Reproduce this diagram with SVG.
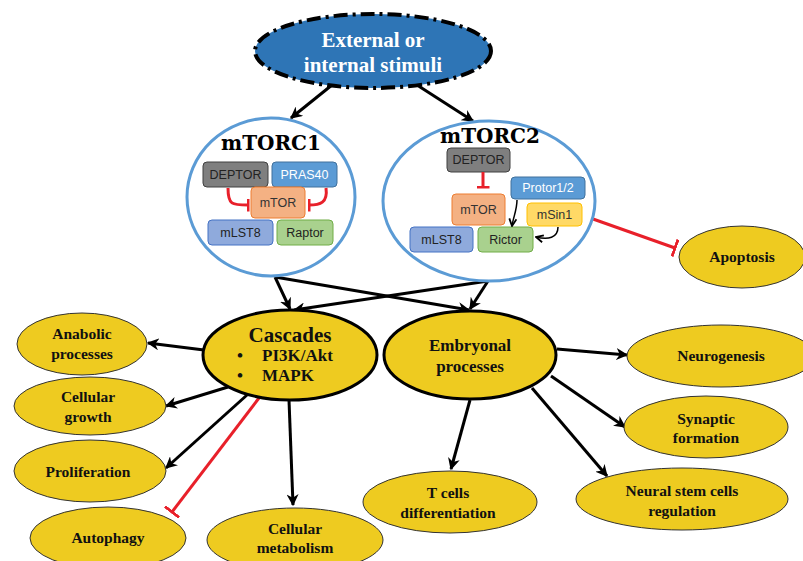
<svg xmlns="http://www.w3.org/2000/svg" width="803" height="561" viewBox="0 0 803 561">
<defs>
<marker id="ah" viewBox="0 0 10 10" refX="9" refY="5" markerWidth="4" markerHeight="4" orient="auto" markerUnits="strokeWidth">
<path d="M0,0 L10,5 L0,10 L3,5 z" fill="#000"/>
</marker>
<marker id="ahs" viewBox="0 0 10 10" refX="9" refY="5" markerWidth="6" markerHeight="6" orient="auto" markerUnits="strokeWidth">
<path d="M1,1 L9,5 L1,9" fill="none" stroke="#000" stroke-width="2"/>
</marker>
<marker id="bar" viewBox="0 0 3 18" refX="1.5" refY="9" markerWidth="3" markerHeight="18" orient="auto" markerUnits="userSpaceOnUse">
<rect x="0" y="0" width="3" height="18" fill="#E8202A"/>
</marker>
<marker id="bars" viewBox="0 0 3 13" refX="1.5" refY="6.5" markerWidth="3" markerHeight="13" orient="auto" markerUnits="userSpaceOnUse">
<rect x="0" y="0" width="3" height="13" fill="#E8202A"/>
</marker>
</defs>
<style>
.y{fill:#EECB20;stroke:#333;stroke-width:1}
.yb{fill:#EECB20;stroke:#000;stroke-width:3}
.t{font-family:"Liberation Serif","Times New Roman",serif;font-weight:bold;fill:#111;text-anchor:middle}
.s15{font-size:15.5px}
.cx{fill:#fff;stroke:#5B9BD5;stroke-width:3}
.bx{font-family:"Liberation Sans",Arial,sans-serif;font-size:12.5px;text-anchor:middle}
.ar{fill:none;stroke:#000;stroke-width:3;marker-end:url(#ah)}
.in{fill:none;stroke:#E8202A;stroke-width:3;marker-end:url(#bar)}
.ins{fill:none;stroke:#E8202A;stroke-width:3;marker-end:url(#bars)}
.hd{font-family:"DejaVu Serif",serif;font-weight:bold;font-size:20px;text-anchor:middle;fill:#000}
.g{fill:#7F7F7F;stroke:#404040}
.b{fill:#5B9BD5;stroke:#41719C}
.o{fill:#F4B183;stroke:#ED7D31}
.l{fill:#8FAADC;stroke:#4472C4}
.gr{fill:#A9D18E;stroke:#70AD47}
.ye{fill:#FFD966;stroke:#FFC000}
</style>
<rect width="803" height="561" fill="#fff"/>

<g id="connectors">
<line class="ar" x1="332" y1="85" x2="291" y2="118"/>
<line class="ar" x1="417" y1="85" x2="473" y2="121"/>
<line class="ar" x1="275" y1="277" x2="290" y2="309"/>
<line class="ar" x1="275" y1="277" x2="469" y2="310"/>
<line class="ar" x1="488" y1="281" x2="470" y2="309"/>
<line class="ar" x1="488" y1="281" x2="294" y2="310"/>
<line class="ar" x1="204" y1="350" x2="148" y2="343"/>
<line class="ar" x1="228" y1="387" x2="166" y2="406"/>
<line class="ar" x1="247" y1="395" x2="166" y2="468"/>
<line class="ar" x1="289" y1="400" x2="293" y2="505"/>
<line class="in" x1="259" y1="398" x2="172" y2="512"/>
<line class="ar" x1="557" y1="349" x2="627" y2="355"/>
<line class="ar" x1="551" y1="376" x2="625" y2="427"/>
<line class="ar" x1="532" y1="388" x2="607" y2="476"/>
<line class="ar" x1="470" y1="400" x2="451" y2="469"/>
<line class="in" x1="593" y1="219" x2="675" y2="248"/>
</g>

<g id="stimuli">
<ellipse cx="373" cy="51" rx="118" ry="37" fill="#2E75B6" stroke="#000" stroke-width="4" stroke-dasharray="14,5,3,5"/>
<text x="373" y="47" font-family="Liberation Serif,serif" font-weight="bold" font-size="21" fill="#fff" text-anchor="middle">External or</text>
<text x="373" y="72" font-family="Liberation Serif,serif" font-weight="bold" font-size="21" fill="#fff" text-anchor="middle">internal stimuli</text>
</g>

<g id="mTORC1">
<ellipse class="cx" cx="271" cy="197" rx="84" ry="79"/>
<text class="hd" x="271" y="150">mTORC1</text>
<rect class="g" x="203" y="162" width="65" height="25" rx="4"/>
<text class="bx" x="235.5" y="179" fill="#222">DEPTOR</text>
<rect class="b" x="272" y="162" width="65" height="25" rx="4"/>
<text class="bx" x="304.5" y="179" fill="#fff">PRAS40</text>
<rect class="o" x="251" y="187" width="54" height="31" rx="4"/>
<text class="bx" x="278" y="207" fill="#333">mTOR</text>
<rect class="l" x="208" y="220" width="65" height="25" rx="4"/>
<text class="bx" x="240.5" y="237" fill="#222">mLST8</text>
<rect class="gr" x="277" y="220" width="56" height="25" rx="4"/>
<text class="bx" x="305" y="237" fill="#222">Raptor</text>
<path class="ins" d="M228,188 C228,205 232,205 248,205"/>
<path class="ins" d="M326,188 C328,203 320,205 309,205"/>
</g>

<g id="mTORC2">
<ellipse class="cx" cx="489" cy="201" rx="106" ry="80"/>
<text class="hd" x="490" y="143">mTORC2</text>
<rect class="g" x="447" y="148" width="63" height="24" rx="4"/>
<text class="bx" x="478.5" y="164" fill="#222">DEPTOR</text>
<path class="ins" d="M483,172 L483,187"/>
<rect class="b" x="511" y="177" width="74" height="22" rx="4"/>
<text class="bx" x="548" y="192" fill="#fff">Protor1/2</text>
<rect class="o" x="452" y="194" width="53" height="31" rx="4"/>
<text class="bx" x="478.5" y="214" fill="#333">mTOR</text>
<rect class="ye" x="527" y="203" width="55" height="23" rx="4"/>
<text class="bx" x="554.5" y="219" fill="#333">mSin1</text>
<rect class="l" x="410" y="227" width="63" height="25" rx="4"/>
<text class="bx" x="441.5" y="244" fill="#222">mLST8</text>
<rect class="gr" x="478" y="227" width="55" height="25" rx="4"/>
<text class="bx" x="505.5" y="244" fill="#222">Rictor</text>
<path d="M517,200 C517,210 513,218 512,226" fill="none" stroke="#000" stroke-width="1.5" marker-end="url(#ahs)"/>
<path d="M558,227 C558,238 548,240 536,237" fill="none" stroke="#000" stroke-width="1.5" marker-end="url(#ahs)"/>
</g>

<g id="apoptosis">
<ellipse class="y" cx="742" cy="257" rx="63" ry="31"/>
<text class="t s15" x="742" y="262">Apoptosis</text>
</g>

<g id="cascades">
<ellipse class="yb" cx="290" cy="355" rx="87" ry="45"/>
<text class="t" x="290" y="342" font-size="21">Cascades</text>
<text font-family="Liberation Serif,serif" font-weight="bold" font-size="17" fill="#111" x="237" y="361">•</text>
<text font-family="Liberation Serif,serif" font-weight="bold" font-size="17" fill="#111" x="262" y="361">PI3K/Akt</text>
<text font-family="Liberation Serif,serif" font-weight="bold" font-size="17" fill="#111" x="237" y="381">•</text>
<text font-family="Liberation Serif,serif" font-weight="bold" font-size="17" fill="#111" x="262" y="381">MAPK</text>
</g>

<g id="embryonal">
<ellipse class="yb" cx="470" cy="355" rx="86" ry="44"/>
<text class="t" x="470" y="351" font-size="17">Embryonal</text>
<text class="t" x="470" y="372" font-size="17">processes</text>
</g>

<g id="anabolic">
<ellipse class="y" cx="82" cy="344" rx="65" ry="31"/>
<text class="t s15" x="82" y="339">Anabolic</text>
<text class="t s15" x="82" y="359">processes</text>
</g>

<g id="growth">
<ellipse class="y" cx="90" cy="406" rx="76" ry="29"/>
<text class="t s15" x="88" y="402">Cellular</text>
<text class="t s15" x="88" y="422">growth</text>
</g>

<g id="proliferation">
<ellipse class="y" cx="90" cy="471" rx="76" ry="31"/>
<text class="t s15" x="88" y="477">Proliferation</text>
</g>

<g id="autophagy">
<ellipse class="y" cx="108" cy="538" rx="78" ry="31"/>
<text class="t s15" x="108" y="543">Autophagy</text>
</g>

<g id="metabolism">
<ellipse class="y" cx="295" cy="540" rx="88" ry="32"/>
<text class="t s15" x="295" y="534">Cellular</text>
<text class="t s15" x="295" y="553">metabolism</text>
</g>

<g id="neurogenesis">
<ellipse class="y" cx="721" cy="356" rx="94" ry="31"/>
<text class="t s15" x="721" y="361">Neurogenesis</text>
</g>

<g id="synaptic">
<ellipse class="y" cx="706" cy="427" rx="82" ry="31"/>
<text class="t s15" x="706" y="424">Synaptic</text>
<text class="t s15" x="706" y="443">formation</text>
</g>

<g id="neuralstem">
<ellipse class="y" cx="682" cy="499" rx="106" ry="31"/>
<text class="t s15" x="682" y="496">Neural stem cells</text>
<text class="t s15" x="682" y="516">regulation</text>
</g>

<g id="tcells">
<ellipse class="y" cx="450" cy="502" rx="87" ry="31"/>
<text class="t s15" x="448" y="498">T cells</text>
<text class="t s15" x="448" y="518">differentiation</text>
</g>
</svg>
